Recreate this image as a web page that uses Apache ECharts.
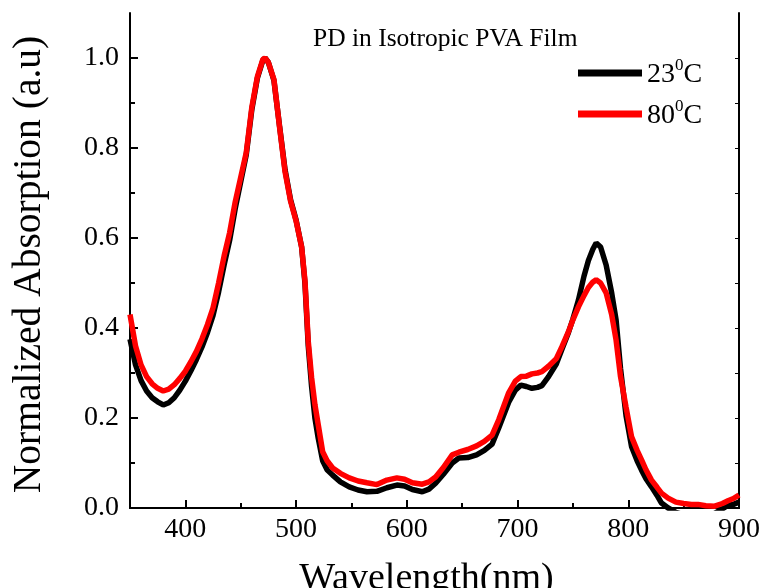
<!DOCTYPE html>
<html>
<head>
<meta charset="utf-8">
<script src="https://cdn.jsdelivr.net/npm/echarts@6/dist/echarts.min.js"></script>
<style>
  html, body { margin: 0; padding: 0; background: #fff; }
  #chart { width: 762px; height: 588px; }
</style>
</head>
<body>
<div id="chart"></div>
<script>
// wavelengths (nm) shared by both spectra
const wavelength = [
  350, 355, 360, 365, 370, 375, 380, 385, 390, 395, 400, 405, 410, 415, 420, 425, 430, 435, 440, 445,
  450, 455, 460, 465, 470, 472, 475, 480, 485, 490, 495, 500, 505, 508, 511, 514, 517, 520, 524, 528,
  533, 540, 548, 556, 564, 573, 582, 591, 598, 605, 614, 620, 626, 633, 641, 647, 655, 663, 670, 677,
  683, 692, 698, 703, 708, 713, 718, 722, 728, 735, 740, 746, 750, 755, 760, 764, 768, 771, 775, 780,
  785, 789, 793, 798, 803, 808, 812, 816, 821, 826, 830, 836, 843, 850, 857, 863, 870, 878, 885, 890,
  895, 900
]
// 23 C
const abs23 = [
  0.375, 0.318, 0.283, 0.260, 0.245, 0.236, 0.229, 0.234, 0.245, 0.262, 0.282, 0.305, 0.330, 0.358, 0.390, 0.428, 0.480, 0.540, 0.595, 0.665,
  0.725, 0.785, 0.885, 0.955, 0.995, 1.000, 0.990, 0.950, 0.850, 0.752, 0.685, 0.640, 0.580, 0.500, 0.360, 0.270, 0.200, 0.155, 0.105, 0.085,
  0.073, 0.058, 0.047, 0.040, 0.036, 0.037, 0.045, 0.051, 0.049, 0.041, 0.036, 0.042, 0.055, 0.075, 0.100, 0.111, 0.112, 0.118, 0.128, 0.142,
  0.178, 0.235, 0.262, 0.273, 0.270, 0.266, 0.268, 0.272, 0.292, 0.320, 0.352, 0.390, 0.420, 0.462, 0.515, 0.550, 0.575, 0.589, 0.580, 0.540,
  0.478, 0.418, 0.310, 0.205, 0.136, 0.105, 0.084, 0.065, 0.047, 0.028, 0.011, 0.000, -0.010, -0.015, -0.018, -0.020, -0.018, -0.012, -0.002, 0.006,
  0.008, 0.013
]
// 80 C
const abs80 = [
  0.430, 0.360, 0.318, 0.292, 0.276, 0.266, 0.260, 0.264, 0.274, 0.288, 0.304, 0.325, 0.348, 0.376, 0.408, 0.445, 0.500, 0.560, 0.612, 0.680,
  0.735, 0.790, 0.890, 0.958, 0.997, 1.000, 0.990, 0.952, 0.848, 0.748, 0.682, 0.638, 0.580, 0.505, 0.370, 0.290, 0.230, 0.185, 0.125, 0.105,
  0.089, 0.077, 0.067, 0.060, 0.056, 0.052, 0.062, 0.067, 0.064, 0.056, 0.053, 0.058, 0.069, 0.090, 0.118, 0.124, 0.130, 0.138, 0.148, 0.162,
  0.196, 0.256, 0.282, 0.292, 0.293, 0.298, 0.300, 0.303, 0.315, 0.332, 0.358, 0.392, 0.418, 0.447, 0.472, 0.490, 0.502, 0.507, 0.500, 0.478,
  0.430, 0.373, 0.292, 0.224, 0.158, 0.128, 0.107, 0.085, 0.062, 0.046, 0.033, 0.022, 0.013, 0.010, 0.008, 0.008, 0.005, 0.004, 0.010, 0.016,
  0.021, 0.029
]

const xMajor = [400, 500, 600, 700, 800, 900]
const xMinor = [350, 450, 550, 650, 750, 850]
const yMajor = [0, 0.2, 0.4, 0.6, 0.8, 1.0]
const yMinor = [0.1, 0.3, 0.5, 0.7, 0.9]
const yRight = [0.1, 0.2, 0.3, 0.4, 0.5, 0.6, 0.7, 0.8, 0.9, 1.0]

const serif = '"Liberation Serif", "Times New Roman", serif'
const black = '#000'

const myChart = echarts.init(document.getElementById('chart'))

// plot box in pixels, shared by the two overlaid grids
const plotRect = { left: 130, top: 13, right: 23, bottom: 80, containLabel: false, outerBoundsMode: 'none' }

const option = {
  backgroundColor: '#fff',
  animation: false,
  grid: [Object.assign({}, plotRect), Object.assign({}, plotRect)],
  graphic: [
    {
      type: 'text',
      left: 313,
      top: 26,
      style: {
        text: 'PD in Isotropic PVA Film',
        font: '25.5px ' + serif,
        fill: black,
      },
    },
  ],
  legend: {
    orient: 'vertical',
    left: 578,
    top: 57,
    padding: 0,
    itemWidth: 64,
    itemHeight: 7,
    itemGap: 9,
    icon: 'rect',
    // "23°C" -> 23 with a superscript 0, then C
    formatter: (name) => {
      const parts = name.split('°')
      return '{b|' + parts[0] + '}{s|0}{b|' + parts[1] + '}'
    },
    textStyle: {
      fontFamily: serif,
      fontSize: 28,
      color: black,
      rich: {
        b: { fontFamily: serif, fontSize: 28, color: black, lineHeight: 32, verticalAlign: 'bottom' },
        s: { fontFamily: serif, fontSize: 17, color: black, lineHeight: 17, verticalAlign: 'top' },
      },
    },
    data: ['23°C', '80°C'],
  },
  xAxis: [
    {
      // bottom: line, major ticks, labels, name
      type: 'value',
      gridIndex: 0,
      position: 'bottom',
      min: 350,
      max: 900,
      name: 'Wavelength(nm)',
      nameLocation: 'middle',
      nameGap: 52,
      nameTextStyle: { fontFamily: serif, fontSize: 38, color: black, padding: [0, 16, 0, 0] },
      axisLine: { show: true, lineStyle: { color: black, width: 2 } },
      axisTick: { show: true, inside: true, length: 8, customValues: xMajor, lineStyle: { color: black, width: 2 } },
      axisLabel: { customValues: xMajor, margin: 8, fontFamily: serif, fontSize: 28, color: black },
      splitLine: { show: false },
    },
    {
      // top frame line
      type: 'value',
      gridIndex: 0,
      position: 'top',
      min: 350,
      max: 900,
      axisLine: { show: true, lineStyle: { color: black, width: 2 } },
      axisTick: { show: false },
      axisLabel: { show: false },
      splitLine: { show: false },
    },
    {
      // minor ticks on bottom
      type: 'value',
      gridIndex: 1,
      position: 'bottom',
      min: 350,
      max: 900,
      axisLine: { show: false },
      axisTick: { show: true, inside: true, length: 5, customValues: xMinor, lineStyle: { color: black, width: 2 } },
      axisLabel: { show: false },
      splitLine: { show: false },
    },
  ],
  yAxis: [
    {
      type: 'value',
      gridIndex: 0,
      position: 'left',
      min: 0,
      max: 1.1,
      name: 'Normalized Absorption (a.u)',
      nameLocation: 'middle',
      nameGap: 80,
      nameTextStyle: { fontFamily: serif, fontSize: 39.5, color: black, padding: [0, 8, 0, 0] },
      axisLine: { show: true, lineStyle: { color: black, width: 2 } },
      axisTick: { show: true, inside: true, length: 8, customValues: yMajor, lineStyle: { color: black, width: 2 } },
      axisLabel: {
        customValues: yMajor,
        margin: 11,
        fontFamily: serif,
        fontSize: 28,
        color: black,
        formatter: (v) => v.toFixed(1),
      },
      splitLine: { show: false },
    },
    {
      // right frame line with small ticks
      type: 'value',
      gridIndex: 0,
      position: 'right',
      min: 0,
      max: 1.1,
      axisLine: { show: true, lineStyle: { color: black, width: 2 } },
      axisTick: { show: true, inside: true, length: 4, customValues: yRight, lineStyle: { color: black, width: 1 } },
      axisLabel: { show: false },
      splitLine: { show: false },
    },
    {
      // minor ticks on left
      type: 'value',
      gridIndex: 1,
      position: 'left',
      min: 0,
      max: 1.1,
      axisLine: { show: false },
      axisTick: { show: true, inside: true, length: 5, customValues: yMinor, lineStyle: { color: black, width: 2 } },
      axisLabel: { show: false },
      splitLine: { show: false },
    },
  ],
  series: [
    {
      name: '23°C',
      type: 'line',
      xAxisIndex: 0,
      yAxisIndex: 0,
      showSymbol: false,
      clip: true,
      color: '#000000',
      lineStyle: { width: 5.5, color: '#000000' },
      data: wavelength.map((w, i) => [w, abs23[i]]),
      z: 2,
    },
    {
      name: '80°C',
      type: 'line',
      xAxisIndex: 0,
      yAxisIndex: 0,
      showSymbol: false,
      clip: true,
      color: '#ff0000',
      lineStyle: { width: 5.5, color: '#ff0000' },
      data: wavelength.map((w, i) => [w, abs80[i]]),
      z: 3,
    },
  ],
}

myChart.setOption(option)

window.addEventListener('resize', function () {
  myChart.resize()
})
</script>
</body>
</html>
